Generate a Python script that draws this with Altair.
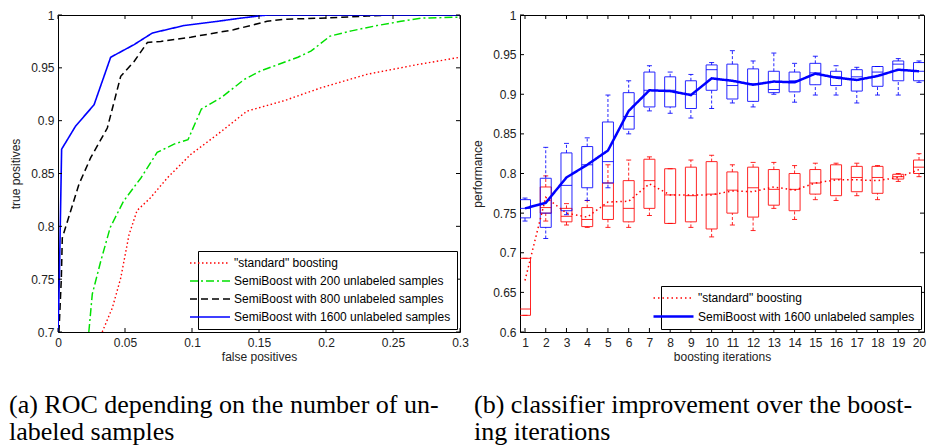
import altair as alt
import pandas as pd

# ---------------- Panel (a): ROC curves ----------------
left_names = ['"standard" boosting',
              "SemiBoost with 200 unlabeled samples",
              "SemiBoost with 800 unlabeled samples",
              "SemiBoost with 1600 unlabeled samples"]

std_fp = [0.033, 0.0406, 0.0468, 0.053, 0.059, 0.069, 0.0817, 0.099, 0.119, 0.141, 0.169, 0.196, 0.231, 0.268, 0.3]
std_tp = [0.70, 0.723, 0.751, 0.792, 0.815, 0.827, 0.846, 0.868, 0.887, 0.909, 0.919, 0.931, 0.944, 0.953, 0.960]

s200_fp = [0.023, 0.0256, 0.0319, 0.039, 0.049, 0.062, 0.074, 0.087, 0.097, 0.107, 0.122, 0.139, 0.151,
           0.164, 0.179, 0.189, 0.203, 0.219, 0.238, 0.256, 0.271, 0.3]
s200_tp = [0.70, 0.736, 0.767, 0.799, 0.824, 0.846, 0.870, 0.878, 0.882, 0.911, 0.922, 0.939, 0.947,
           0.953, 0.960, 0.966, 0.980, 0.985, 0.990, 0.994, 0.997, 0.998]

s800_fp = [0.0007, 0.0025, 0.0032, 0.0157, 0.0244, 0.0368, 0.0468, 0.0568, 0.0667, 0.0767, 0.099,
           0.131, 0.156, 0.169, 0.196, 0.231, 0.248, 0.3]
s800_tp = [0.70, 0.751, 0.789, 0.840, 0.865, 0.893, 0.942, 0.956, 0.974, 0.975, 0.979,
           0.986, 0.994, 0.996, 0.997, 0.999, 1.0, 1.0]

s1600_fp = [0.0, 0.001, 0.0027, 0.0132, 0.0269, 0.0393, 0.0568, 0.0705, 0.094, 0.119, 0.136, 0.156, 0.3]
s1600_tp = [0.70, 0.75, 0.873, 0.895, 0.915, 0.960, 0.972, 0.983, 0.990, 0.994, 0.997, 1.0, 1.0]

left_xticks = [0, 0.05, 0.1, 0.15, 0.2, 0.25, 0.3]
left_yticks = [0.7, 0.75, 0.8, 0.85, 0.9, 0.95, 1.0]

# ---------------- Panel (b): boosting iterations ----------------
right_names = ['"standard" boosting', "SemiBoost with 1600 unlabeled samples"]
iterations = list(range(1, 21))

blue_whi = [0.769, 0.833, 0.838, 0.845, 0.899, 0.917, 0.936, 0.928, 0.925, 0.940, 0.955, 0.942, 0.952, 0.939, 0.948, 0.936, 0.934, 0.935, 0.945, 0.942]
blue_q3 = [0.767, 0.794, 0.826, 0.834, 0.865, 0.902, 0.928, 0.922, 0.917, 0.937, 0.938, 0.932, 0.929, 0.928, 0.939, 0.929, 0.931, 0.935, 0.942, 0.940]
blue_med = [0.756, 0.750, 0.785, 0.811, 0.815, 0.872, 0.905, 0.905, 0.900, 0.931, 0.911, 0.913, 0.906, 0.917, 0.927, 0.922, 0.922, 0.928, 0.938, 0.929]
blue_q1 = [0.744, 0.732, 0.753, 0.782, 0.788, 0.856, 0.884, 0.884, 0.882, 0.905, 0.894, 0.891, 0.902, 0.903, 0.912, 0.911, 0.904, 0.910, 0.917, 0.917]
blue_wlo = [0.740, 0.718, 0.748, 0.766, 0.782, 0.850, 0.879, 0.876, 0.870, 0.882, 0.889, 0.884, 0.900, 0.890, 0.899, 0.899, 0.889, 0.899, 0.899, 0.915]
blue_mean = [0.756, 0.763, 0.795, 0.811, 0.829, 0.879, 0.905, 0.904, 0.899, 0.920, 0.917, 0.912, 0.916, 0.915, 0.926, 0.921, 0.918, 0.923, 0.931, 0.929]

red_whi = [0.693, 0.797, 0.762, 0.766, 0.811, 0.817, 0.821, 0.806, 0.817, 0.823, 0.811, 0.814, 0.814, 0.810, 0.813, 0.813, 0.813, 0.810, 0.800, 0.825]
red_q3 = [0.693, 0.783, 0.756, 0.757, 0.788, 0.791, 0.818, 0.806, 0.808, 0.815, 0.802, 0.808, 0.805, 0.800, 0.805, 0.811, 0.809, 0.809, 0.799, 0.817]
red_med = [0.629, 0.757, 0.746, 0.742, 0.759, 0.756, 0.791, 0.773, 0.772, 0.774, 0.779, 0.782, 0.780, 0.780, 0.788, 0.793, 0.795, 0.795, 0.796, 0.808]
red_q1 = [0.621, 0.750, 0.739, 0.733, 0.742, 0.739, 0.756, 0.737, 0.739, 0.730, 0.750, 0.745, 0.760, 0.753, 0.774, 0.772, 0.777, 0.775, 0.793, 0.800]
red_wlo = [0.621, 0.740, 0.735, 0.732, 0.732, 0.732, 0.747, 0.737, 0.732, 0.720, 0.735, 0.728, 0.756, 0.742, 0.767, 0.766, 0.772, 0.767, 0.790, 0.796]
red_mean = [0.665, 0.770, 0.750, 0.745, 0.764, 0.765, 0.787, 0.773, 0.773, 0.773, 0.778, 0.777, 0.783, 0.779, 0.788, 0.792, 0.792, 0.791, 0.795, 0.805]

right_xticks = iterations
right_yticks = [0.6, 0.65, 0.7, 0.75, 0.8, 0.85, 0.9, 0.95, 1.0]

caption_a = ["(a) ROC depending on the number of un-", "labeled samples"]
caption_b = ["(b) classifier improvement over the boost-", "ing iterations"]

# ---------------- styling ----------------
RED, GREEN, BLACK, BLUE = "#ff0000", "#00e000", "#000000", "#0000ff"
W, H = 402, 317
RW = 404
TXT = "#222222"
FONT = "Liberation Sans"
SYMBOL = "M-4,0H4"


def axis(title, values, **kw):
    return alt.Axis(title=title, values=values, format="~g", grid=False, ticks=False, tickSize=0,
                    domain=False, labelFont=FONT, labelFontSize=12, labelColor=TXT,
                    titleFont=FONT, titleFontSize=12, titleFontWeight="normal", titleColor=TXT,
                    labelFlush=False, labelOverlap=False, **kw)


def legend(x, y):
    return alt.Legend(title=None, orient="none", legendX=x, legendY=y,
                      symbolType=SYMBOL, symbolSize=100, labelOffset=18,
                      labelFont=FONT, labelFontSize=12, labelColor="black",
                      strokeColor="black", fillColor="white", padding=6, rowPadding=6,
                      labelLimit=400)


def frame_ticks(xvals, yvals, xs, ys, xax, yax, w, h, L=4):
    xt = pd.DataFrame({"v": xvals})
    yt = pd.DataFrame({"v": yvals})
    base_x = alt.Chart(xt).mark_rule(color="black", strokeWidth=1)
    base_y = alt.Chart(yt).mark_rule(color="black", strokeWidth=1)
    xe = alt.X("v:Q", scale=xs, axis=xax)
    ye = alt.Y("v:Q", scale=ys, axis=yax)
    return [
        base_x.encode(x=xe, y=alt.value(h), y2=alt.value(h - L)),
        base_x.encode(x=xe, y=alt.value(0), y2=alt.value(L)),
        base_y.encode(y=ye, x=alt.value(0), x2=alt.value(L)),
        base_y.encode(y=ye, x=alt.value(w - L), x2=alt.value(w)),
    ]


# ---------------- Panel (a) chart ----------------
rows = []
for name, xs_, ys_ in [(left_names[0], std_fp, std_tp), (left_names[1], s200_fp, s200_tp),
                       (left_names[2], s800_fp, s800_tp), (left_names[3], s1600_fp, s1600_tp)]:
    for a, b in zip(xs_, ys_):
        rows.append({"series": name, "fp": a, "tp": b})
roc = pd.DataFrame(rows)

lx = alt.Scale(domain=[0, 0.3], nice=False, zero=False)
ly = alt.Scale(domain=[0.7, 1.0], nice=False, zero=False)
lxax = axis("false positives", left_xticks, labelPadding=5, titlePadding=3)
lyax = axis("true positives", left_yticks, labelPadding=4, titlePadding=8)
lleg = legend(140, 236)

roc_lines = alt.Chart(roc).mark_line(clip=True).encode(
    x=alt.X("fp:Q", scale=lx, axis=lxax),
    y=alt.Y("tp:Q", scale=ly, axis=lyax),
    color=alt.Color("series:N", scale=alt.Scale(domain=left_names, range=[RED, GREEN, BLACK, BLUE]), legend=lleg),
    strokeDash=alt.StrokeDash("series:N", scale=alt.Scale(domain=left_names,
                              range=[[1.5, 2.5], [8, 3, 2, 3], [7, 4], [1, 0]]), legend=lleg),
    strokeWidth=alt.StrokeWidth("series:N", scale=alt.Scale(domain=left_names, range=[1.4, 1.6, 2, 2]), legend=lleg),
    detail="series:N",
)

left = alt.layer(roc_lines, *frame_ticks(left_xticks, left_yticks, lx, ly, lxax, lyax, W, H)).properties(
    width=W, height=H,
    title=alt.TitleParams(text=caption_a, orient="bottom", anchor="start", frame="group", dx=-49, offset=30,
                          font="Liberation Serif", fontSize=26, fontWeight="normal", lineHeight=27, color="black"),
)

# ---------------- Panel (b) chart ----------------
rx = alt.Scale(domain=[1, 20], nice=False, zero=False)
ry = alt.Scale(domain=[0.6, 1.0], nice=False, zero=False)
rxax = axis("boosting iterations", right_xticks, labelPadding=5, titlePadding=3)
ryax = axis("performance", right_yticks, labelPadding=4, titlePadding=8)


def box_layers(color, whi, q3, med, q1, wlo):
    d = pd.DataFrame({"it": iterations, "whi": whi, "q3": q3, "med": med, "q1": q1, "wlo": wlo})
    base = alt.Chart(d)
    X = alt.X("it:Q", scale=rx, axis=rxax)
    op = 0.85
    return [
        base.mark_rule(color=color, strokeDash=[3, 2], strokeWidth=1, opacity=op, clip=True).encode(
            x=X, y=alt.Y("q3:Q", scale=ry, axis=ryax), y2="whi:Q"),
        base.mark_rule(color=color, strokeDash=[3, 2], strokeWidth=1, opacity=op, clip=True).encode(
            x=X, y=alt.Y("wlo:Q", scale=ry, axis=ryax), y2="q1:Q"),
        base.mark_bar(size=11, fillOpacity=0, stroke=color, strokeWidth=1, opacity=op, clip=True).encode(
            x=X, y=alt.Y("q1:Q", scale=ry, axis=ryax), y2="q3:Q"),
        base.mark_tick(orient="horizontal", size=11, thickness=1, color=color, opacity=op, clip=True).encode(
            x=X, y=alt.Y("med:Q", scale=ry, axis=ryax)),
        base.mark_tick(orient="horizontal", size=5, thickness=1, color=color, opacity=op, clip=True).encode(
            x=X, y=alt.Y("whi:Q", scale=ry, axis=ryax)),
        base.mark_tick(orient="horizontal", size=5, thickness=1, color=color, opacity=op, clip=True).encode(
            x=X, y=alt.Y("wlo:Q", scale=ry, axis=ryax)),
    ]


mean_rows = []
for name, vals in [(right_names[0], red_mean), (right_names[1], blue_mean)]:
    for i, v in zip(iterations, vals):
        mean_rows.append({"series": name, "it": i, "perf": v})
means = pd.DataFrame(mean_rows)

rleg = legend(141, 271)
mean_lines = alt.Chart(means).mark_line(clip=True).encode(
    x=alt.X("it:Q", scale=rx, axis=rxax),
    y=alt.Y("perf:Q", scale=ry, axis=ryax),
    color=alt.Color("series:N", scale=alt.Scale(domain=right_names, range=[RED, BLUE]), legend=rleg),
    strokeDash=alt.StrokeDash("series:N", scale=alt.Scale(domain=right_names, range=[[1.5, 3], [1, 0]]), legend=rleg),
    strokeWidth=alt.StrokeWidth("series:N", scale=alt.Scale(domain=right_names, range=[1.5, 2.5]), legend=rleg),
    detail="series:N",
)

right = alt.layer(
    *box_layers(RED, red_whi, red_q3, red_med, red_q1, red_wlo),
    *box_layers(BLUE, blue_whi, blue_q3, blue_med, blue_q1, blue_wlo),
    mean_lines,
    *frame_ticks(right_xticks, right_yticks, rx, ry, rxax, ryax, RW, H),
).properties(
    width=RW, height=H,
    title=alt.TitleParams(text=caption_b, orient="bottom", anchor="start", frame="group", dx=-46, offset=30,
                          font="Liberation Serif", fontSize=26, fontWeight="normal", lineHeight=27, color="black"),
)

chart = alt.hconcat(left, right, spacing=60, bounds="flush").properties(
    padding={"left": 8, "top": 8, "right": 0, "bottom": 0},
    background="white",
).configure_view(stroke="black", strokeWidth=1).resolve_scale(color="independent", strokeDash="independent",
                                                               strokeWidth="independent")

chart.save("out.html", embed_options={"renderer": "svg", "actions": False})
